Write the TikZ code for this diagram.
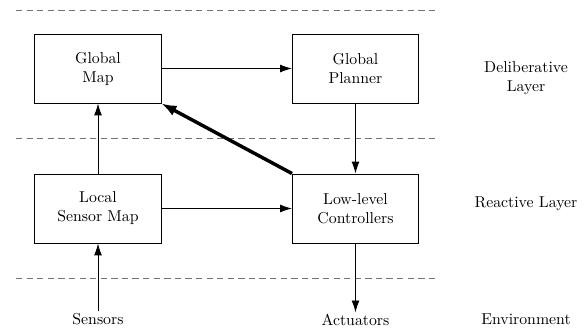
\documentclass[tikz,border=0pt]{standalone}
\usetikzlibrary{arrows.meta}
\begin{document}
\begin{tikzpicture}[x=0.633pt,y=-0.633pt,
  box/.style={draw, line width=0.6pt, minimum width=79.8pt, minimum height=43.7pt, align=center, inner sep=0pt},
  lbl/.style={align=center, inner sep=1pt},
  layer/.style={draw=black!55, dash pattern=on 4pt off 2.7pt, line width=0.6pt},
  conn/.style={-{Latex[length=7.5pt,width=5pt]}, line width=0.6pt},
  thickconn/.style={-{Latex[length=9.5pt,width=7pt]}, line width=2.2pt}]
\useasboundingbox (0,0) rectangle (587,329);
\coordinate (d1a) at (16,10);  \coordinate (d1b) at (437,10);
\coordinate (d2a) at (16,138); \coordinate (d2b) at (437,138);
\coordinate (d3a) at (16,278); \coordinate (d3b) at (437,278);
\draw[layer] (d1a) -- (d1b);
\draw[layer] (d2a) -- (d2b);
\draw[layer] (d3a) -- (d3b);
\node[box] (gmap) at (98,68.5) {Global\\Map};
\node[box] (gplan) at (355.5,68.5) {Global\\Planner};
\node[box] (lmap) at (98,208.5) {Local\\Sensor Map};
\node[box] (llc) at (355.5,208.5) {Low-level\\Controllers};
\node[lbl] (sens) at (98,319) {Sensors};
\node[lbl] (act) at (355.5,320) {Actuators};
\node[lbl] (delib) at (526,78) {Deliberative\\Layer};
\node[lbl] (react) at (526,204) {Reactive Layer};
\node[lbl] (env) at (526,319) {Environment};
\draw[conn] (gmap) -- (gplan);
\draw[conn] (lmap) -- (llc);
\draw[conn] (gplan) -- (llc);
\draw[conn] (lmap) -- (gmap);
\draw[conn] (sens) -- (lmap);
\draw[conn] (llc) -- (act);
\draw[thickconn] (llc.north west) -- (gmap.south east);
\end{tikzpicture}
\end{document}
